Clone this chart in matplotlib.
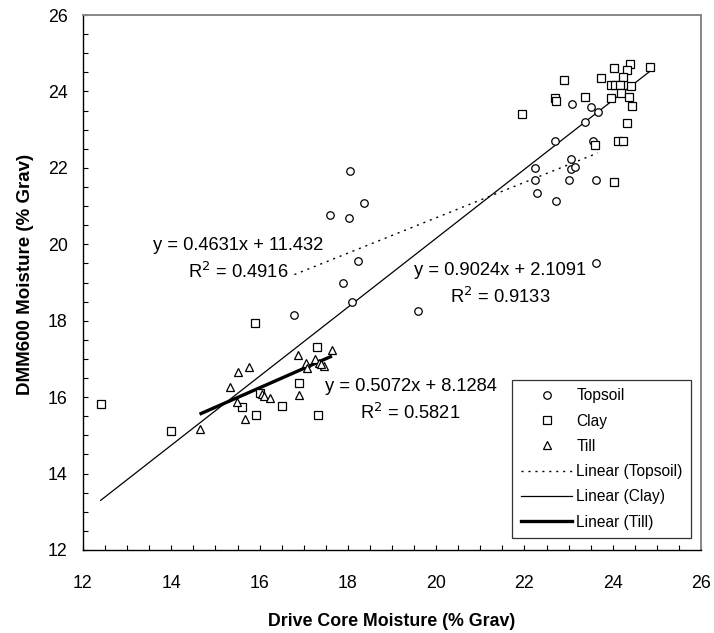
import matplotlib
matplotlib.use("Agg")
import matplotlib.pyplot as plt
from matplotlib.ticker import MultipleLocator
from matplotlib.lines import Line2D

plt.rcParams['font.family'] = ['Liberation Sans', 'DejaVu Sans']

# ---- data ----
topsoil_x = [18.04, 17.60, 18.02, 18.37, 18.24, 17.88, 18.10, 16.79, 19.58, 23.63,
             23.08, 23.50, 23.66, 23.37, 22.70, 23.56, 23.05, 23.06, 23.15, 22.25,
             22.25, 23.02, 23.63, 22.28, 22.72]
topsoil_y = [21.92, 20.77, 20.70, 21.07, 19.55, 19.00, 18.48, 18.15, 18.26, 19.51,
             23.66, 23.58, 23.46, 23.20, 22.69, 22.69, 22.24, 21.98, 22.03, 21.99,
             21.67, 21.67, 21.67, 21.33, 21.14]

clay_x = [12.40, 14.00, 15.89, 15.61, 15.93, 16.01, 16.50, 16.89, 17.30, 17.33,
          21.94, 22.69, 22.72, 22.90, 23.37, 23.74, 23.59, 24.04, 24.40, 24.33,
          24.85, 24.24, 23.97, 24.06, 24.16, 24.41, 24.19, 23.95, 24.36, 24.43,
          24.33, 24.13, 24.24, 24.03]
clay_y = [15.81, 15.12, 17.93, 15.75, 15.53, 16.10, 15.76, 16.36, 17.32, 15.53,
          23.40, 23.82, 23.74, 24.30, 23.86, 24.36, 22.61, 24.61, 24.72, 24.57,
          24.65, 24.37, 24.17, 24.17, 24.17, 24.13, 23.95, 23.84, 23.86, 23.62,
          23.18, 22.70, 22.70, 21.63]

till_x = [14.64, 15.34, 15.50, 15.76, 15.48, 15.66, 16.05, 16.09, 16.24, 16.90,
          16.87, 17.06, 17.07, 17.26, 17.35, 17.45, 17.64, 17.40]
till_y = [15.16, 16.27, 16.65, 16.80, 15.87, 15.42, 16.08, 16.03, 15.97, 16.06,
          17.10, 16.90, 16.75, 17.00, 16.90, 16.82, 17.24, 16.86]

# trendline coefficients (slope, intercept, R^2) as labelled in the chart
topsoil_fit = (0.4631, 11.432, 0.4916)
clay_fit = (0.9024, 2.1091, 0.9133)
till_fit = (0.5072, 8.1284, 0.5821)

W, H = 714, 633
fig = plt.figure(figsize=(W / 100, H / 100), dpi=100)
L, R, T, B = 83, 701, 15, 550
ax = fig.add_axes([L / W, 1 - B / H, (R - L) / W, (B - T) / H])

mk = dict(linestyle='none', markerfacecolor='white', markeredgecolor='black',
          markeredgewidth=0.9, zorder=3)
ax.plot(topsoil_x, topsoil_y, marker='o', markersize=5.4, **mk)
ax.plot(clay_x, clay_y, marker='s', markersize=5.2, **mk)
ax.plot(till_x, till_y, marker='^', markersize=6.0, **mk)


def trend(xs, fit, **kw):
    x0, x1 = min(xs), max(xs)
    m, c, _ = fit
    ax.plot([x0, x1], [m * x0 + c, m * x1 + c], color='black', zorder=2, **kw)


trend(topsoil_x, topsoil_fit, linewidth=1.0, linestyle=(0, (1.5, 3.5)))
trend(clay_x, clay_fit, linewidth=0.9, linestyle='-')
trend(till_x, till_fit, linewidth=2.4, linestyle='-', solid_capstyle='butt')


def eqlabel(x, y1, y2, fit):
    m, c, r2 = fit
    ax.text(x, y1, f"y = {m:.4f}x + {c:g}", ha='center', va='center', fontsize=13.2)
    ax.text(x, y2, f"R$^2$ = {r2:.4f}", ha='center', va='center', fontsize=13.2)


eqlabel(15.51, 19.97, 19.27, topsoil_fit)
eqlabel(21.45, 19.31, 18.63, clay_fit)
eqlabel(19.42, 16.27, 15.58, till_fit)

ax.set_xlim(12, 26)
ax.set_ylim(12, 26)
ax.xaxis.set_major_locator(MultipleLocator(2))
ax.yaxis.set_major_locator(MultipleLocator(2))
ax.xaxis.set_minor_locator(MultipleLocator(0.5))
ax.yaxis.set_minor_locator(MultipleLocator(0.5))
ax.tick_params(which='both', direction='in', length=3.5, width=0.8, color='black',
               top=False, right=False)
ax.tick_params(axis='x', which='major', pad=18, labelsize=12.8)
ax.tick_params(axis='y', which='major', pad=11, labelsize=12.8)

for s in ['left', 'bottom']:
    ax.spines[s].set_color('black')
    ax.spines[s].set_linewidth(1.0)
for s in ['top', 'right']:
    ax.spines[s].set_color('#888888')
    ax.spines[s].set_linewidth(1.4)

fig.text((L + R) / 2 / W, 1 - 621 / H, 'Drive Core Moisture (% Grav)',
         ha='center', va='center', fontsize=12.8, fontweight='bold')
fig.text(26 / W, 1 - 274 / H, 'DMM600 Moisture (% Grav)',
         ha='center', va='center', rotation=90, fontsize=13.5, fontweight='bold')

handles = [
    Line2D([], [], marker='o', markersize=5.4, **mk),
    Line2D([], [], marker='s', markersize=5.2, **mk),
    Line2D([], [], marker='^', markersize=6.0, **mk),
    Line2D([], [], color='black', linewidth=1.0, linestyle=(0, (1.5, 3.5))),
    Line2D([], [], color='black', linewidth=0.9),
    Line2D([], [], color='black', linewidth=2.4),
]
labels = ['Topsoil', 'Clay', 'Till', 'Linear (Topsoil)', 'Linear (Clay)', 'Linear (Till)']
leg = ax.legend(handles, labels, loc='lower right', bbox_to_anchor=(0.984, 0.022),
                fontsize=11.2, frameon=True, fancybox=False, edgecolor='black',
                handlelength=3.3, handletextpad=0.25, labelspacing=0.66,
                borderpad=0.55, borderaxespad=0)
leg.get_frame().set_linewidth(0.9)

fig.savefig('out.png', dpi=100)
